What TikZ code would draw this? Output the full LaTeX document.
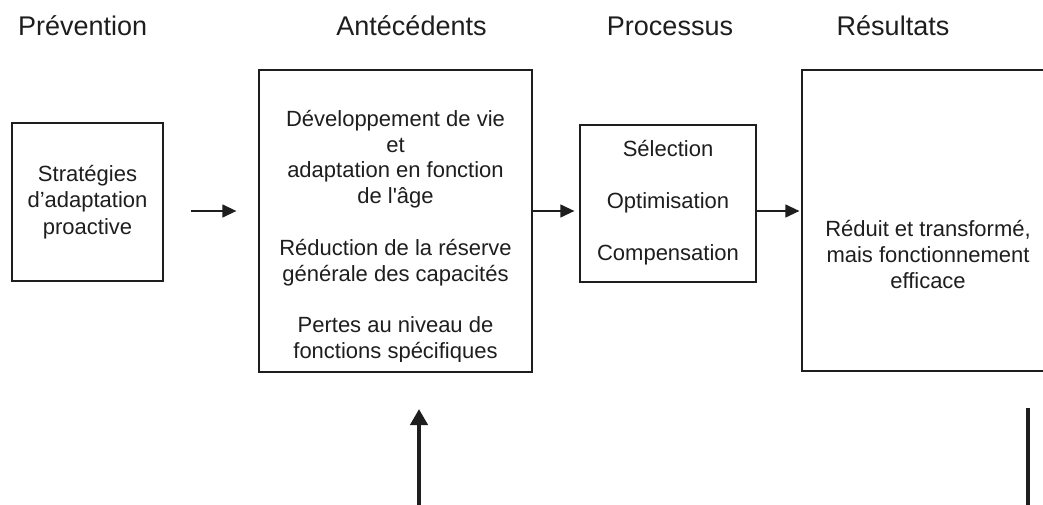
\documentclass[tikz,border=0pt]{standalone}
\usepackage{fontspec}
\setmainfont{Liberation Sans}
\usetikzlibrary{arrows.meta}
\definecolor{ink}{HTML}{1E1E1E}
\begin{document}
\begin{tikzpicture}[x=1pt,y=-1pt,
  box/.style={draw=ink, line width=1.3pt, rectangle, inner sep=0pt},
  head/.style={anchor=base, text=ink, font=\fontsize{27}{32}\selectfont, inner sep=0pt},
  body/.style={align=center, text=ink, font=\fontsize{22}{25.8}\selectfont, inner sep=0pt},
  flow/.style={draw=ink, line width=1.3pt, -{Triangle[length=14pt,width=13pt]}},
  bigflow/.style={draw=ink, line width=4pt, -{Triangle[length=16pt,width=17pt]}},
  bar/.style={draw=ink, line width=4.5pt}
]
\clip (0,0) rectangle (1043,505);
\fill[white] (0,0) rectangle (1043,505);

% column headings
\node[head, anchor=base west] (hPrev) at (18,36) {Prévention};
\node[head] (hAnt) at (411.5,36) {Antécédents};
\node[head] (hProc) at (670,36) {Processus};
\node[head] (hRes) at (893,36) {Résultats};

% boxes
\node[box, minimum width=151pt, minimum height=158pt] (prev) at (87.5,202) {};
\node[box, minimum width=273pt, minimum height=302pt] (ant) at (395.5,221) {};
\node[box, minimum width=176pt, minimum height=157pt] (proc) at (668,203.5) {};
\node[box, minimum width=252pt, minimum height=301pt] (res) at (928,220.5) {};

% box contents
\node[body, font=\fontsize{22}{26.5}\selectfont] (prevText) at (87.5,202)
  {Stratégies\\d’adaptation\\proactive};
\begin{scope}
  \clip (259,70) rectangle (532,361);
  \node[body] (antText) at (395.5,236.5)
    {Développement de vie\\et\\adaptation en fonction\\de l\textquotesingle âge\\[25.8pt]
     Réduction de la réserve\\générale des capacités\\[25.8pt]
     Pertes au niveau de\\fonctions spécifiques};
\end{scope}
\node[body] (procText) at (668,202.5)
  {Sélection\\[26pt]Optimisation\\[26pt]Compensation};
\node[body] (resText) at (928,254.5)
  {Réduit et transformé,\\mais fonctionnement\\efficace};

% flow between the columns
\coordinate (lvl) at (0,211);
\draw[flow, shorten <=27pt, shorten >=22pt] (prev.east |- lvl) -- (ant.west |- lvl);
\draw[flow, shorten >=5pt] (ant.east |- lvl) -- (proc.west |- lvl);
\draw[flow, shorten >=2pt] (proc.east |- lvl) -- (res.west |- lvl);

% lower strokes
\coordinate (upFoot) at (419,505);
\coordinate (upTip) at (419,409);
\draw[bigflow] (upFoot) -- (upTip);
\coordinate (rTop) at (1028,408);
\coordinate (rFoot) at (1028,505);
\draw[bar] (rTop) -- (rFoot);
\end{tikzpicture}
\end{document}
